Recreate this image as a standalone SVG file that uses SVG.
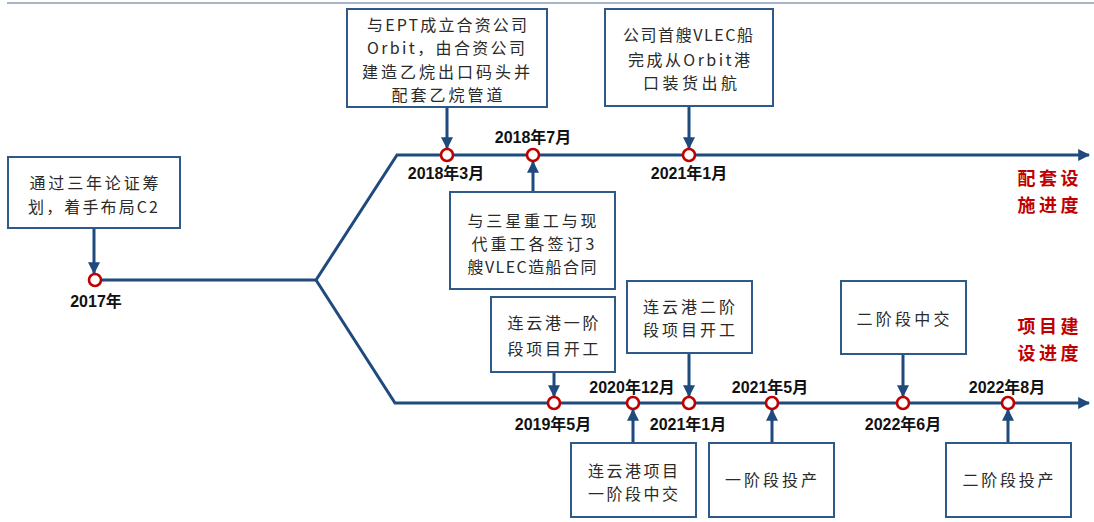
<svg xmlns="http://www.w3.org/2000/svg" width="1094" height="522" viewBox="0 0 1094 522">
<style>
.box{fill:#fff;stroke:#2E5A8A;stroke-width:2}
.nt{font-family:"Noto Sans CJK SC","Liberation Sans",sans-serif;font-size:16px;fill:#2a2a2a;text-anchor:middle}
.tl{fill:none;stroke:#1F4A7E;stroke-width:3}
.cn{stroke:#1F4A7E;stroke-width:3}
.dot{fill:#fff;stroke:#C00000;stroke-width:2.6}
.dl{font-family:"Liberation Sans","Noto Sans CJK SC",sans-serif;font-size:16px;font-weight:bold;fill:#111;text-anchor:middle}
.rl{font-family:"Noto Sans CJK SC",sans-serif;font-size:18px;font-weight:bold;fill:#C00000;text-anchor:middle}
</style>
<defs>
<marker id="ah" viewBox="0 0 10 10" refX="9" refY="5" markerUnits="userSpaceOnUse" markerWidth="12" markerHeight="12" orient="auto">
<path d="M0,0 L10,5 L0,10 z" fill="#1F4A7E"/>
</marker>
</defs>
<line x1="7" y1="3" x2="1094" y2="3" stroke="#A6B4C4" stroke-width="2"/>
<g id="connectors">
<path class="tl" d="M95,280 L316,280 L397,155 L1089,155" marker-end="url(#ah)"/>
<path class="tl" d="M316,280 L395,403 L1089,403" marker-end="url(#ah)"/>
<line class="cn" x1="94" y1="228" x2="94" y2="273" marker-end="url(#ah)"/>
<line class="cn" x1="447" y1="107" x2="447" y2="148" marker-end="url(#ah)"/>
<line class="cn" x1="533" y1="192" x2="533" y2="162" marker-end="url(#ah)"/>
<line class="cn" x1="689" y1="106" x2="689" y2="148" marker-end="url(#ah)"/>
<line class="cn" x1="554" y1="372" x2="554" y2="396" marker-end="url(#ah)"/>
<line class="cn" x1="689" y1="353" x2="689" y2="396" marker-end="url(#ah)"/>
<line class="cn" x1="633" y1="443" x2="633" y2="410" marker-end="url(#ah)"/>
<line class="cn" x1="903" y1="354" x2="903" y2="396" marker-end="url(#ah)"/>
<line class="cn" x1="772" y1="443" x2="772" y2="410" marker-end="url(#ah)"/>
<line class="cn" x1="1008" y1="443" x2="1008" y2="410" marker-end="url(#ah)"/>
</g>
<g id="m2017"><circle class="dot" cx="95" cy="280" r="6"/><text class="dl" x="96" y="307">2017年</text></g>
<g id="m201803"><circle class="dot" cx="447" cy="155" r="6"/><text class="dl" x="446" y="179">2018年3月</text></g>
<g id="m201807"><circle class="dot" cx="533" cy="155" r="6"/><text class="dl" x="533" y="143">2018年7月</text></g>
<g id="m202101a"><circle class="dot" cx="689" cy="155" r="6"/><text class="dl" x="689" y="179">2021年1月</text></g>
<g id="m201905"><circle class="dot" cx="554" cy="403" r="6"/><text class="dl" x="553" y="430">2019年5月</text></g>
<g id="m202012"><circle class="dot" cx="633" cy="403" r="6"/><text class="dl" x="632" y="393">2020年12月</text></g>
<g id="m202101b"><circle class="dot" cx="689" cy="403" r="6"/><text class="dl" x="688" y="430">2021年1月</text></g>
<g id="m202105"><circle class="dot" cx="772" cy="403" r="6"/><text class="dl" x="770" y="393">2021年5月</text></g>
<g id="m202206"><circle class="dot" cx="903" cy="403" r="6"/><text class="dl" x="903" y="430">2022年6月</text></g>
<g id="m202208"><circle class="dot" cx="1008" cy="403" r="6"/><text class="dl" x="1007" y="393">2022年8月</text></g>
<g id="n-plan"><rect class="box" x="8" y="157" width="172" height="71"/>
<text class="nt" x="94" y="189" textLength="129" lengthAdjust="spacing">通过三年论证筹</text>
<text class="nt" x="93" y="213" textLength="130" lengthAdjust="spacing">划，着手布局C2</text></g>
<g id="n-ept"><rect class="box" x="347" y="9" width="200" height="98"/>
<text class="nt" x="447" y="31" textLength="160" lengthAdjust="spacing">与EPT成立合资公司</text>
<text class="nt" x="446" y="54" textLength="158" lengthAdjust="spacing">Orbit，由合资公司</text>
<text class="nt" x="446" y="78" textLength="168" lengthAdjust="spacing">建造乙烷出口码头并</text>
<text class="nt" x="447" y="101" textLength="111" lengthAdjust="spacing">配套乙烷管道</text></g>
<g id="n-ship"><rect class="box" x="450" y="192" width="165" height="97"/>
<text class="nt" x="532" y="227" textLength="129" lengthAdjust="spacing">与三星重工与现</text>
<text class="nt" x="533" y="250" textLength="123" lengthAdjust="spacing">代重工各签订3</text>
<text class="nt" x="532" y="273" textLength="129" lengthAdjust="spacing">艘VLEC造船合同</text></g>
<g id="n-vlec"><rect class="box" x="605" y="9" width="168" height="97"/>
<text class="nt" x="688" y="41" textLength="130" lengthAdjust="spacing">公司首艘VLEC船</text>
<text class="nt" x="689" y="66" textLength="122" lengthAdjust="spacing">完成从Orbit港</text>
<text class="nt" x="690" y="89" textLength="94" lengthAdjust="spacing">口装货出航</text></g>
<g id="n-p1start"><rect class="box" x="491" y="297" width="124" height="75"/>
<text class="nt" x="553" y="329" textLength="91" lengthAdjust="spacing">连云港一阶</text>
<text class="nt" x="553" y="355" textLength="91" lengthAdjust="spacing">段项目开工</text></g>
<g id="n-p2start"><rect class="box" x="627" y="281" width="125" height="72"/>
<text class="nt" x="689" y="313" textLength="92" lengthAdjust="spacing">连云港二阶</text>
<text class="nt" x="689" y="336" textLength="92" lengthAdjust="spacing">段项目开工</text></g>
<g id="n-p1deliver"><rect class="box" x="571" y="443" width="125" height="74"/>
<text class="nt" x="633" y="477" textLength="90" lengthAdjust="spacing">连云港项目</text>
<text class="nt" x="633" y="500" textLength="90" lengthAdjust="spacing">一阶段中交</text></g>
<g id="n-p2deliver"><rect class="box" x="841" y="281" width="125" height="73"/>
<text class="nt" x="903" y="325" textLength="93" lengthAdjust="spacing">二阶段中交</text></g>
<g id="n-p1prod"><rect class="box" x="709" y="443" width="125" height="74"/>
<text class="nt" x="771" y="486" textLength="92" lengthAdjust="spacing">一阶段投产</text></g>
<g id="n-p2prod"><rect class="box" x="946" y="443" width="125" height="74"/>
<text class="nt" x="1008" y="486" textLength="91" lengthAdjust="spacing">二阶段投产</text></g>
<g id="lbl-facility">
<text class="rl" x="1048" y="185"><tspan x="1048" y="185" textLength="61" lengthAdjust="spacing">配套设</tspan><tspan x="1048" y="212" textLength="61" lengthAdjust="spacing">施进度</tspan></text></g>
<g id="lbl-project">
<text class="rl" x="1048" y="333"><tspan x="1048" y="333" textLength="61" lengthAdjust="spacing">项目建</tspan><tspan x="1048" y="360" textLength="61" lengthAdjust="spacing">设进度</tspan></text></g>
</svg>
